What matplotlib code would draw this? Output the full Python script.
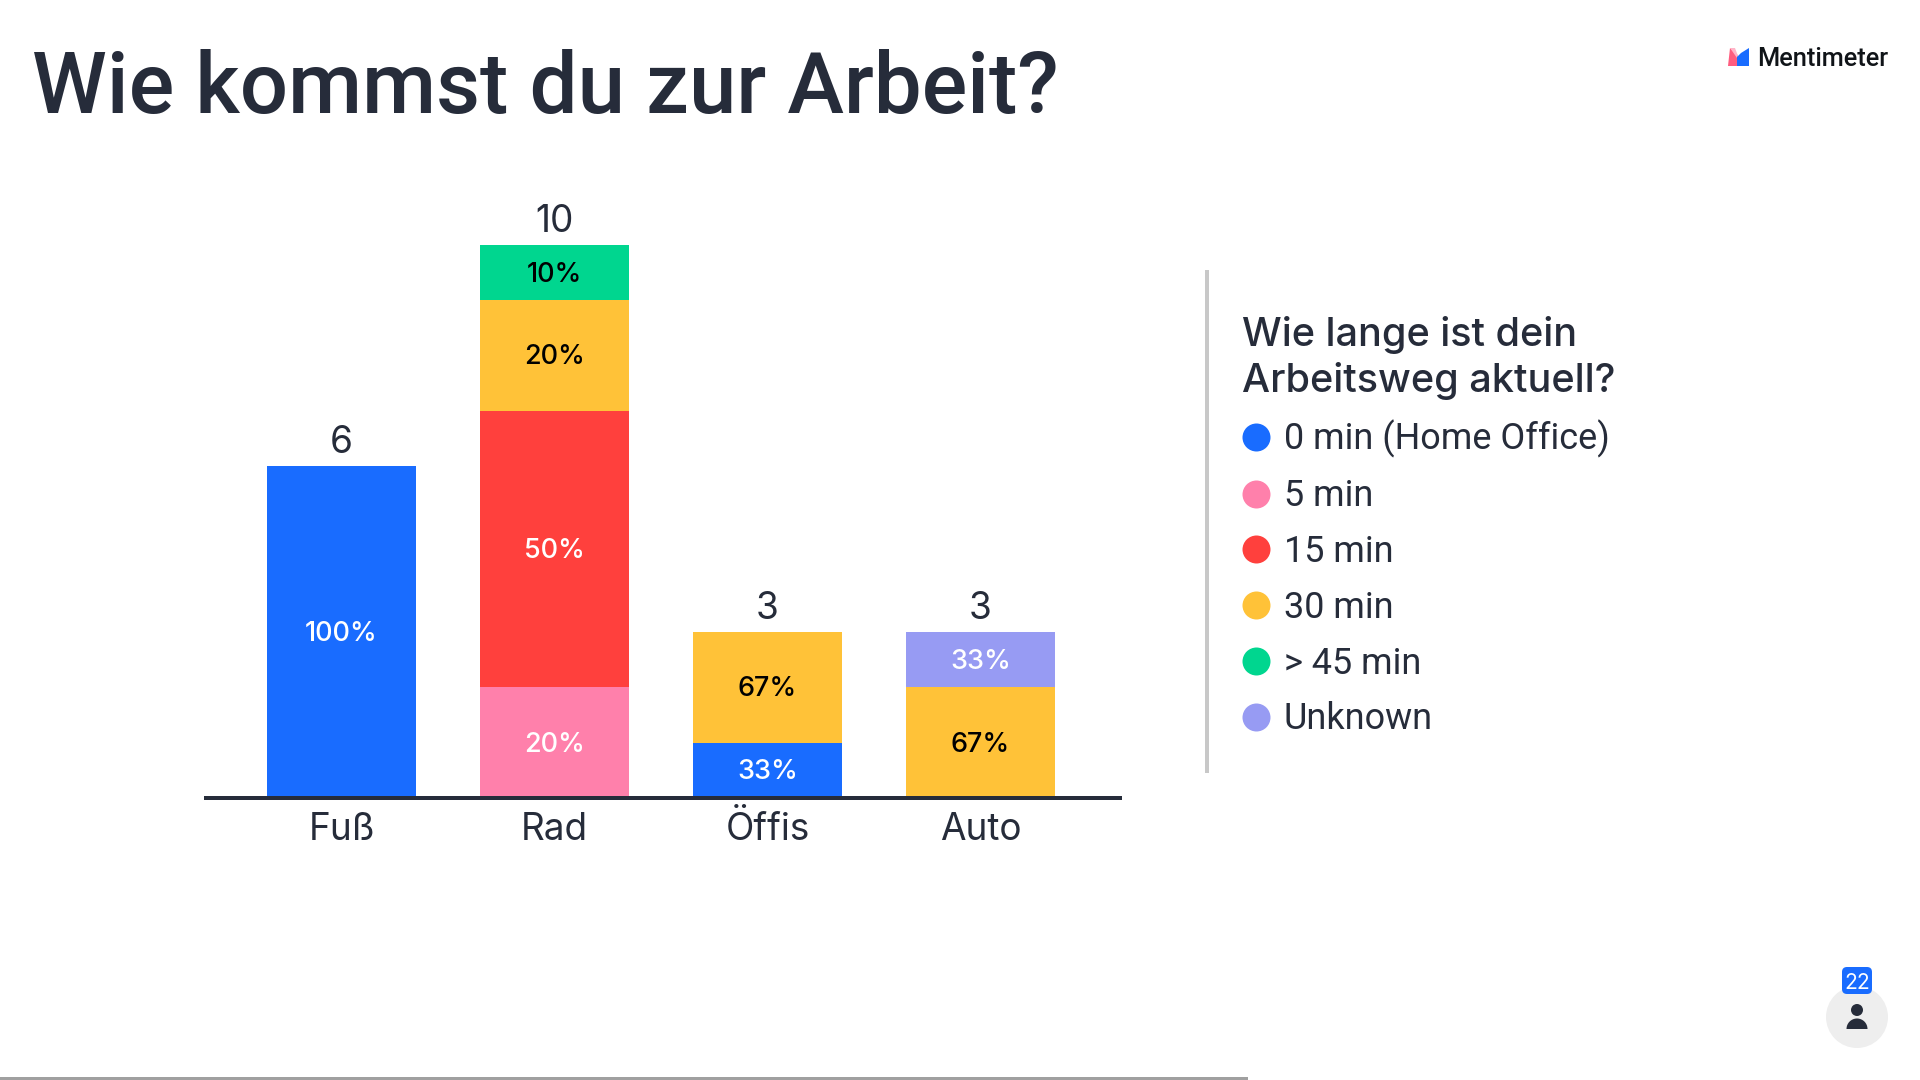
import matplotlib
matplotlib.use("Agg")
import matplotlib.pyplot as plt
from matplotlib.lines import Line2D
from matplotlib.patches import Circle, FancyBboxPatch, Polygon, Rectangle, Wedge

plt.rcParams['font.family'] = ['Inter', 'DejaVu Sans']

TITLE = "Wie kommst du zur Arbeit?"
LEGEND_TITLE = "Wie lange ist dein\nArbeitsweg aktuell?"
categories = ["Fuß", "Rad", "Öffis", "Auto"]
series_names = ["0 min (Home Office)", "5 min", "15 min", "30 min", "> 45 min", "Unknown"]
home_office = [6, 0, 1, 0]
five_min = [0, 2, 0, 0]
fifteen_min = [0, 5, 0, 0]
thirty_min = [0, 2, 2, 2]
over_45 = [0, 1, 0, 0]
unknown = [0, 0, 0, 1]
series_values = [home_office, five_min, fifteen_min, thirty_min, over_45, unknown]
series_colors = ["#196CFF", "#FF80AB", "#FF403D", "#FFC238", "#00D68F", "#979BF3"]
label_colors = ["white", "white", "white", "black", "black", "white"]
DARK = "#262C3A"
NARROW = ["Roboto", "DejaVu Sans"]
PX = 72 / 100  # points per pixel at dpi 100

fig = plt.figure(figsize=(19.2, 10.8), dpi=100, facecolor="white")

# pixel overlay for page furniture
pg = fig.add_axes([0, 0, 1, 1], zorder=0)
pg.set_xlim(0, 1920)
pg.set_ylim(1080, 0)
pg.axis("off")

# chart
x_left, x_right, y_base, unit = 204, 1122, 798, 55.3
centre0, step = 341.5, 213
y_max = 12
ax = fig.add_axes([x_left / 1920, (1080 - y_base) / 1080,
                   (x_right - x_left) / 1920, y_max * unit / 1080], zorder=1)
ax.patch.set_alpha(0)
ax.set_xlim((x_left - centre0) / step, (x_right - centre0) / step)
ax.set_ylim(0, y_max)
for s in ("top", "left", "right"):
    ax.spines[s].set_visible(False)
ax.spines["bottom"].set_linewidth(4 * PX)
ax.spines["bottom"].set_color(DARK)
ax.spines["bottom"].set_capstyle("butt")
ax.set_yticks([])
positions = list(range(len(categories)))
ax.set_xticks(positions, categories)
ax.tick_params(axis="x", length=0, pad=13.5 * PX, labelsize=37 * PX, labelcolor=DARK)

totals = [sum(v[i] for v in series_values) for i in positions]
bottoms = [0] * len(categories)
for vals, col, lcol in zip(series_values, series_colors, label_colors):
    ax.bar(positions, vals, width=0.7, bottom=bottoms, color=col, linewidth=0)
    for i, v in enumerate(vals):
        if v:
            ax.text(i, bottoms[i] + v / 2 + 0.02, f"{round(100 * v / totals[i])}%",
                    ha="center", va="center_baseline", color=lcol, fontsize=27 * PX,
                    fontweight="medium")
    bottoms = [b + v for b, v in zip(bottoms, vals)]
for i, t in enumerate(totals):
    ax.annotate(str(t), (i, t), xytext=(0, 13 * PX), textcoords="offset points",
                ha="center", va="baseline", color=DARK, fontsize=37 * PX)

# title
pg.text(32, 113, TITLE, fontsize=85 * PX, fontweight="medium", family=NARROW,
        color=DARK, ha="left", va="baseline")

# legend divider + legend
pg.add_patch(Rectangle((1205, 270), 4, 503, color="#C8C8C8", lw=0))
handles = [Line2D([], [], linestyle="none", marker="o", markersize=28 * PX,
                  markerfacecolor=c, markeredgewidth=0, label=n)
           for c, n in zip(series_colors, series_names)]
leg = ax.legend(handles=handles, title=LEGEND_TITLE, loc="upper left",
                bbox_to_anchor=(1241.5, 315.5), bbox_transform=pg.transData,
                frameon=False, alignment="left", borderpad=0, borderaxespad=0,
                handlelength=0.78, handletextpad=0.39, labelspacing=0.55,
                labelcolor=DARK, prop={"size": 36 * PX, "family": NARROW},
                title_fontproperties={"size": 39.6 * PX, "weight": "medium"})
leg.get_title().set_color(DARK)
leg.get_title().set_linespacing(1.29)

# logo
pg.add_patch(Polygon([(1728, 66), (1730, 48), (1737, 54), (1742, 66)], color="#FF5C7F", lw=0))
pg.add_patch(Polygon([(1730, 48), (1735, 48), (1738, 56), (1737, 58)], color="#FFB5C8", lw=0))
pg.add_patch(Polygon([(1737, 66), (1737, 57), (1741, 53), (1749, 48), (1749, 66)], color="#196CFF", lw=0))
pg.text(1757, 66, "Mentimeter", fontsize=25.4 * PX, fontweight="medium", family=NARROW,
        color="#101418", ha="left", va="baseline")

# participants badge
pg.add_patch(Circle((1857, 1017), 31, color="#EEEEEE", lw=0))
pg.add_patch(Circle((1857, 1010), 6, color=DARK, lw=0))
pg.add_patch(Wedge((1857, 1029), 10.5, 180, 360, color=DARK, lw=0))
pg.add_patch(FancyBboxPatch((1846, 971), 22, 19, boxstyle="round,pad=4,rounding_size=5", color="#196CFF", lw=0))
pg.text(1857, 981, "22", fontsize=21 * PX, color="white", ha="center", va="center_baseline")

# progress bar
pg.add_patch(Rectangle((0, 1077), 1248, 3, color="#A0A0A0", lw=0))

fig.savefig("out.png", dpi=100)
